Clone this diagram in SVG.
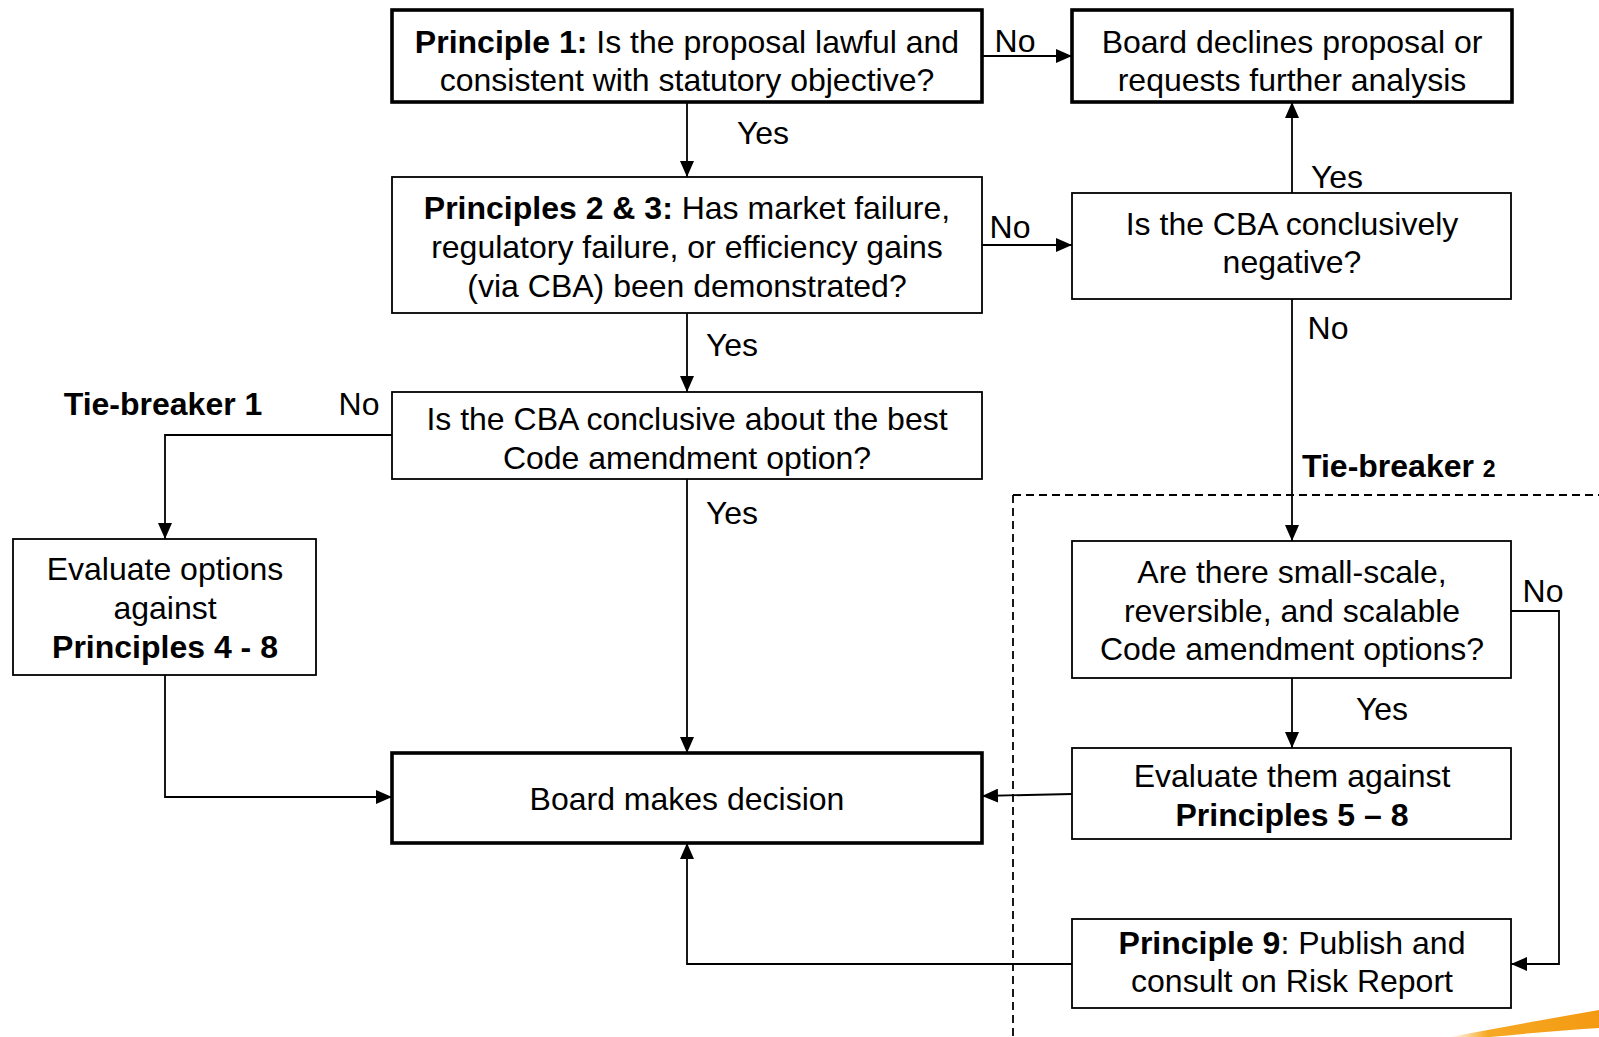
<svg xmlns="http://www.w3.org/2000/svg" width="1599" height="1037" viewBox="0 0 1599 1037">
<style>
text{font-family:"Liberation Sans",Arial,sans-serif;font-size:32px;fill:#000;text-anchor:middle}
.b{font-weight:bold}
.l{text-anchor:start}
.box{fill:#fff;stroke:#000;stroke-width:1.8}
.thick{fill:#fff;stroke:#000;stroke-width:3.6}
.c{fill:none;stroke:#000;stroke-width:1.8}
.d{fill:none;stroke:#000;stroke-width:1.8;stroke-dasharray:8,5}
</style>
<defs>
<marker id="ah" viewBox="0 0 16 14" refX="16" refY="7" markerWidth="16" markerHeight="14" markerUnits="userSpaceOnUse" orient="auto">
<path d="M0,0 L16,7 L0,14 z" fill="#000"/>
</marker>
<linearGradient id="og" x1="0" y1="0" x2="1" y2="0">
<stop offset="0" stop-color="#F7A823" stop-opacity="0"/>
<stop offset="0.25" stop-color="#F7A823"/>
<stop offset="1" stop-color="#F39A12"/>
</linearGradient>
</defs>

<path d="M1450,1037 Q1530,1022 1599,1010 L1599,1028 Q1540,1032 1490,1037 Z" fill="url(#og)"/>

<g id="dashed">
<path class="d" d="M1013,495 H1599"/>
<path class="d" d="M1013,495 V1037"/>
</g>

<g id="connectors">
<path class="c" d="M982,56 H1072" marker-end="url(#ah)"/>
<path class="c" d="M687,102 V177" marker-end="url(#ah)"/>
<path class="c" d="M982,245 H1072" marker-end="url(#ah)"/>
<path class="c" d="M1292,193 V102" marker-end="url(#ah)"/>
<path class="c" d="M1292,299 V541" marker-end="url(#ah)"/>
<path class="c" d="M687,313 V392" marker-end="url(#ah)"/>
<path class="c" d="M392,435 H165 V539" marker-end="url(#ah)"/>
<path class="c" d="M687,479 V753" marker-end="url(#ah)"/>
<path class="c" d="M165,675 V797 H392" marker-end="url(#ah)"/>
<path class="c" d="M1292,678 V748" marker-end="url(#ah)"/>
<path class="c" d="M1072,794 L982,796" marker-end="url(#ah)"/>
<path class="c" d="M1511,611 H1559 V964 H1511" marker-end="url(#ah)"/>
<path class="c" d="M1072,964 H687 V843" marker-end="url(#ah)"/>
<text x="1015" y="52">No</text>
<text x="763" y="144">Yes</text>
<text x="1010" y="238">No</text>
<text x="1337" y="188">Yes</text>
<text x="1328" y="339">No</text>
<text x="732" y="356">Yes</text>
<text x="359" y="415">No</text>
<text x="732" y="524">Yes</text>
<text x="1382" y="720">Yes</text>
<text x="1543" y="602">No</text>
<text class="b" x="163" y="415">Tie-breaker 1</text>
<text class="b l" x="1302" y="477">Tie-breaker <tspan style="font-size:23px">2</tspan></text>
</g>

<g id="p1">
<rect class="thick" x="392" y="10" width="590" height="92"/>
<text x="687" y="53"><tspan class="b">Principle 1:</tspan> Is the proposal lawful and</text>
<text x="687" y="91">consistent with statutory objective?</text>
</g>

<g id="declines">
<rect class="thick" x="1072" y="10" width="440" height="92"/>
<text x="1292" y="53">Board declines proposal or</text>
<text x="1292" y="91">requests further analysis</text>
</g>

<g id="p23">
<rect class="box" x="392" y="177" width="590" height="136"/>
<text x="687" y="219"><tspan class="b">Principles 2 &amp; 3:</tspan> Has market failure,</text>
<text x="687" y="258">regulatory failure, or efficiency gains</text>
<text x="687" y="297">(via CBA) been demonstrated?</text>
</g>

<g id="cbaneg">
<rect class="box" x="1072" y="193" width="439" height="106"/>
<text x="1292" y="235">Is the CBA conclusively</text>
<text x="1292" y="273">negative?</text>
</g>

<g id="cbaconc">
<rect class="box" x="392" y="392" width="590" height="87"/>
<text x="687" y="430">Is the CBA conclusive about the best</text>
<text x="687" y="469">Code amendment option?</text>
</g>

<g id="evalopts">
<rect class="box" x="13" y="539" width="303" height="136"/>
<text x="165" y="580">Evaluate options</text>
<text x="165" y="619">against</text>
<text class="b" x="165" y="658">Principles 4 - 8</text>
</g>

<g id="decision">
<rect class="thick" x="392" y="753" width="590" height="90"/>
<text x="687" y="810">Board makes decision</text>
</g>

<g id="smallscale">
<rect class="box" x="1072" y="541" width="439" height="137"/>
<text x="1292" y="583">Are there small-scale,</text>
<text x="1292" y="622">reversible, and scalable</text>
<text x="1292" y="660">Code amendment options?</text>
</g>

<g id="evalthem">
<rect class="box" x="1072" y="748" width="439" height="91"/>
<text x="1292" y="787">Evaluate them against</text>
<text class="b" x="1292" y="826">Principles 5 – 8</text>
</g>

<g id="p9">
<rect class="box" x="1072" y="919" width="439" height="89"/>
<text x="1292" y="954"><tspan class="b">Principle 9</tspan>: Publish and</text>
<text x="1292" y="992">consult on Risk Report</text>
</g>
</svg>
